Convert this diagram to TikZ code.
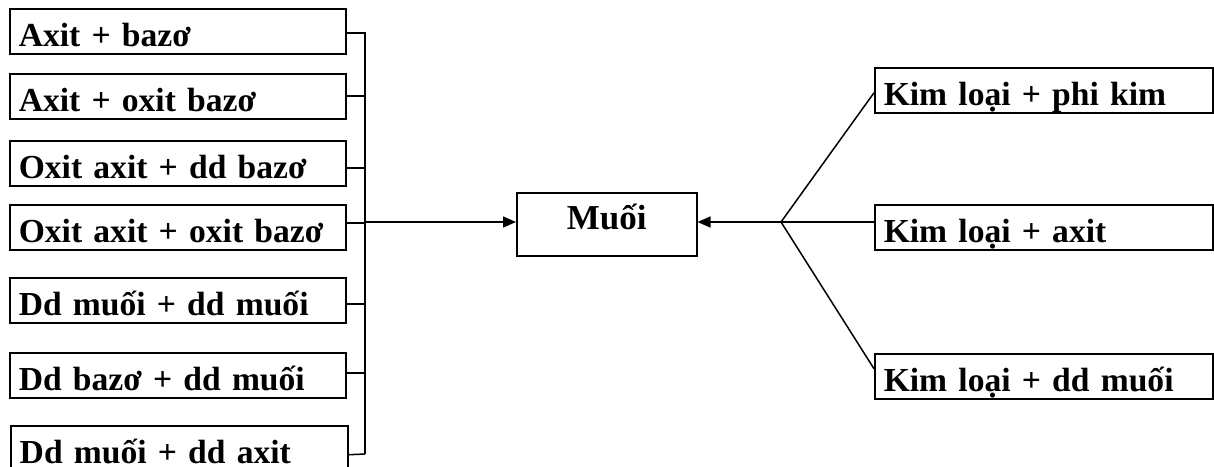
\documentclass[tikz,border=0pt]{standalone}
\usepackage{fontspec}
\setmainfont{Liberation Serif}
\usetikzlibrary{arrows.meta}
\begin{document}
\begin{tikzpicture}[x=1pt,y=-1pt,
  line width=1.5pt,
  srcbox/.style={draw, rectangle, anchor=north west, minimum height=45pt,
    inner ysep=0pt, inner xsep=9pt, align=left, text height=33pt, text depth=2pt,
    font=\fontsize{33.6}{40}\selectfont\bfseries},
  mainbox/.style={draw, rectangle, anchor=north west, minimum width=180pt, minimum height=63pt,
    inner sep=0pt, text height=12pt, text depth=2pt,
    font=\fontsize{35}{40}\selectfont\bfseries},
  arr/.style={-{Triangle[length=13pt,width=11pt]}}
]
\useasboundingbox (0,0) rectangle (1214,466);
% left column
\node[srcbox, text width=318pt] (l1) at (9,8) {Axit + bazơ};
\node[srcbox, text width=318pt] (l2) at (9,73) {Axit + oxit bazơ};
\node[srcbox, text width=318pt] (l3) at (9,140) {Oxit axit + dd bazơ};
\node[srcbox, text width=318pt] (l4) at (9,204) {Oxit axit + oxit bazơ};
\node[srcbox, text width=318pt] (l5) at (9,277) {Dd muối + dd muối};
\node[srcbox, text width=318pt] (l6) at (9,352) {Dd bazơ + dd muối};
\node[srcbox, text width=319pt] (l7) at (10,425) {Dd muối + dd axit};
% centre
\node[mainbox] (m) at (516,192) {Muối};
% right column
\node[srcbox, text width=320pt] (r1) at (874,67) {Kim loại + phi kim};
\node[srcbox, text width=320pt] (r2) at (874,204) {Kim loại + axit};
\node[srcbox, text width=320pt] (r3) at (874,353) {Kim loại + dd muối};
% bus on the left
\coordinate (btop) at (365,32);
\coordinate (bbot) at (365,454);
\coordinate (bmid) at (365,222);
\draw (btop) -- (bbot);
\draw ([yshift=-1.5pt]l1.east) -- ([yshift=-1.5pt]l1.east -| btop);
\draw ([yshift=0.5pt]l2.east) -- ([yshift=0.5pt]l2.east -| btop);
\draw ([yshift=-4.5pt]l3.east) -- ([yshift=-4.5pt]l3.east -| btop);
\draw ([yshift=4.5pt]l4.east) -- ([yshift=4.5pt]l4.east -| btop);
\draw ([yshift=-3.5pt]l5.east) -- ([yshift=-3.5pt]l5.east -| btop);
\draw ([yshift=2.5pt]l6.east) -- ([yshift=2.5pt]l6.east -| btop);
\draw ([yshift=-6.5pt]l7.east) -- (bbot);
\draw[arr] (bmid) -- (bmid -| m.west);
% fork on the right
\coordinate (fork) at (781,222);
\draw[arr] (fork) -- (fork -| m.east);
\draw (fork) -- ([yshift=-2.5pt]r1.west);
\draw (fork) -- (fork -| r2.west);
\draw (fork) -- ([yshift=7.5pt]r3.west);
\end{tikzpicture}
\end{document}
